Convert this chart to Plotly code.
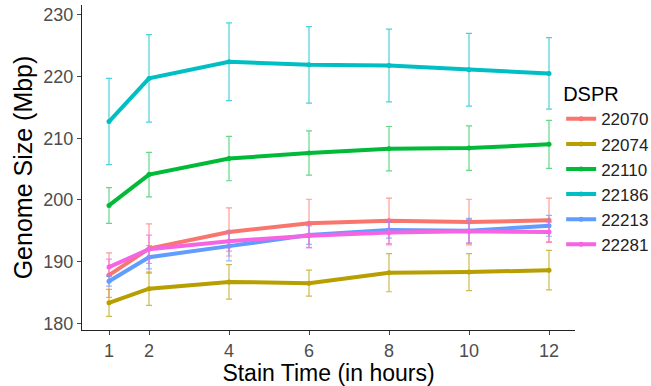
import plotly.graph_objects as go

hours = [1, 2, 4, 6, 8, 10, 12]
strains = ["22070", "22074", "22110", "22186", "22213", "22281"]
colors = ["#F8766D", "#B79F00", "#00BA38", "#00BFC4", "#619CFF", "#F564E3"]
err_colors = ["rgba(248,118,109,0.7)", "rgba(183,159,0,0.7)", "rgba(0,186,56,0.6)",
              "rgba(0,191,196,0.7)", "rgba(97,156,255,0.7)", "rgba(245,100,227,0.7)"]

means = {
    "22070": [187.8, 192.1, 194.8, 196.2, 196.6, 196.4, 196.7],
    "22074": [183.3, 185.6, 186.7, 186.5, 188.2, 188.3, 188.6],
    "22110": [199.1, 204.1, 206.7, 207.6, 208.3, 208.4, 209.0],
    "22186": [212.7, 219.7, 222.4, 221.9, 221.8, 221.1, 220.5],
    "22213": [186.8, 190.7, 192.5, 194.3, 195.1, 195.0, 195.8],
    "22281": [189.1, 192.0, 193.3, 194.2, 194.7, 194.9, 194.8],
}
errors = {
    "22070": [3.6, 4.0, 3.9, 3.9, 3.7, 3.7, 3.6],
    "22074": [2.2, 2.7, 2.8, 2.1, 3.1, 3.0, 3.2],
    "22110": [2.9, 3.6, 3.6, 3.6, 3.6, 3.6, 3.9],
    "22186": [7.0, 7.1, 6.3, 6.2, 5.9, 5.9, 5.8],
    "22213": [0.8, 1.9, 2.4, 1.5, 1.3, 2.0, 1.7],
    "22281": [1.3, 2.3, 1.6, 2.0, 2.0, 1.9, 1.6],
}

fig = go.Figure()
for s, c, ec in zip(strains, colors, err_colors):
    fig.add_trace(go.Scatter(
        x=hours, y=means[s], name=s, mode="lines+markers",
        line=dict(color=c, width=4),
        marker=dict(color=c, size=5),
        error_y=dict(type="data", array=errors[s], color=ec, thickness=1.2, width=3),
    ))

fig.update_layout(
    width=651, height=386,
    margin=dict(l=82, r=76, t=5, b=56, autoexpand=False),
    paper_bgcolor="white", plot_bgcolor="white",
    font=dict(family="Liberation Sans, Arial, sans-serif", color="#222222"),
    legend=dict(
        title=dict(text="DSPR", font=dict(size=20, color="#000000")),
        xref="container", yref="container",
        x=0.862, xanchor="left", y=0.805, yanchor="top",
        font=dict(size=17, color="#222222"),
        bgcolor="rgba(0,0,0,0)", tracegroupgap=0, itemwidth=30,
    ),
    xaxis=dict(
        range=[0.325, 12.65], tickvals=hours, ticktext=[str(h) for h in hours],
        showgrid=False, zeroline=False,
        showline=True, linecolor="#222222", linewidth=1.3,
        ticks="outside", ticklen=4, tickcolor="#444444",
        tickfont=dict(size=18, color="#4D4D4D"),
        title=dict(text="Stain Time (in hours)", font=dict(size=23, color="#000000"), standoff=4),
    ),
    yaxis=dict(
        range=[178.9, 231.6], tickvals=[180, 190, 200, 210, 220, 230],
        showgrid=False, zeroline=False,
        showline=True, linecolor="#222222", linewidth=1.3,
        ticks="outside", ticklen=4, tickcolor="#444444",
        tickfont=dict(size=18, color="#4D4D4D"),
        title=dict(text="Genome Size (Mbp)", font=dict(size=25, color="#000000"), standoff=3),
    ),
)

fig.write_html("out.html")
